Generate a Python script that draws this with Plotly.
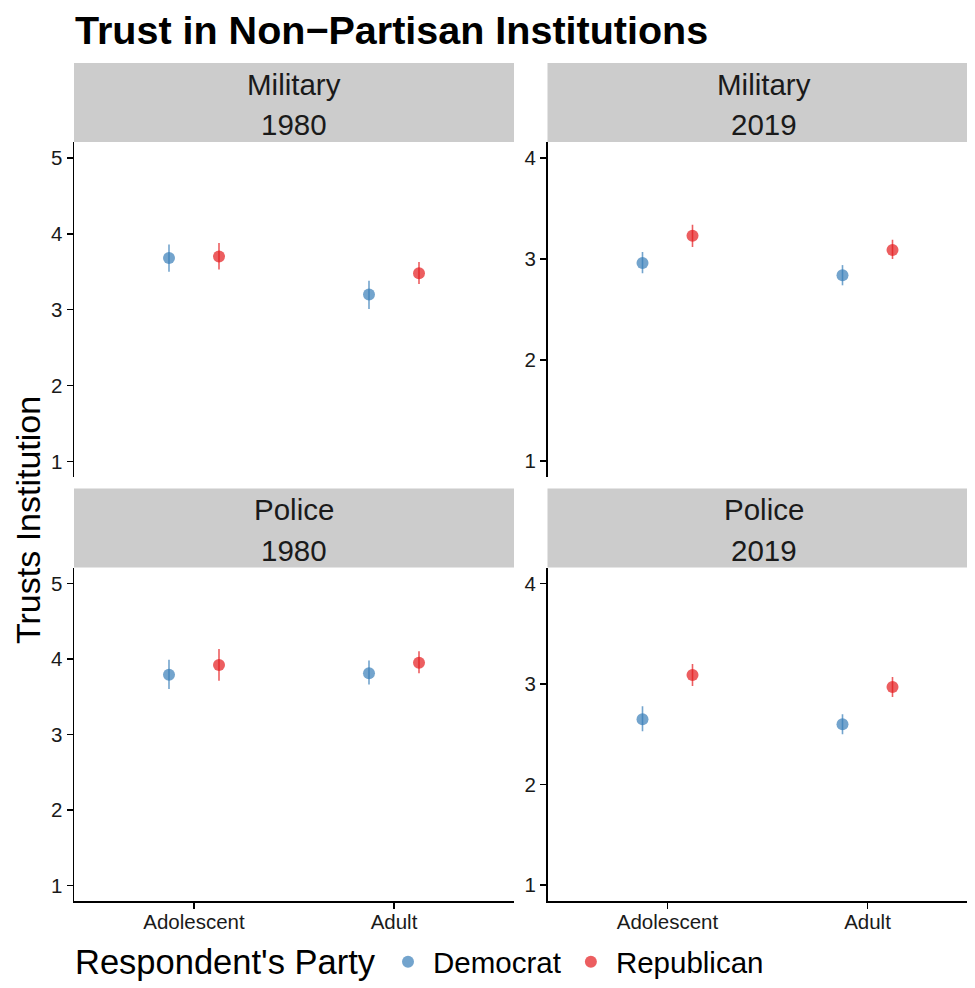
import plotly.graph_objects as go

# page has the browser's default 8px body margin; the figure fills the rest
OFF = 8
W, H = 975 - OFF, 988 - OFF

# ---------------- data ----------------
categories = ["Adolescent", "Adult"]
parties = ["Democrat", "Republican"]
panel_titles = [("Military", "1980"), ("Military", "2019"), ("Police", "1980"), ("Police", "2019")]
y_ticks = [1, 2, 3, 4, 5]

mil1980_dem = [3.68, 3.20]
mil1980_dem_lo = [3.50, 3.01]
mil1980_dem_hi = [3.86, 3.38]
mil1980_rep = [3.70, 3.48]
mil1980_rep_lo = [3.53, 3.34]
mil1980_rep_hi = [3.88, 3.63]

mil2019_dem = [2.96, 2.84]
mil2019_dem_lo = [2.86, 2.74]
mil2019_dem_hi = [3.07, 2.94]
mil2019_rep = [3.23, 3.09]
mil2019_rep_lo = [3.12, 3.00]
mil2019_rep_hi = [3.34, 3.19]

pol1980_dem = [3.79, 3.81]
pol1980_dem_lo = [3.60, 3.66]
pol1980_dem_hi = [3.99, 3.98]
pol1980_rep = [3.92, 3.95]
pol1980_rep_lo = [3.71, 3.81]
pol1980_rep_hi = [4.13, 4.10]

pol2019_dem = [2.65, 2.60]
pol2019_dem_lo = [2.53, 2.50]
pol2019_dem_hi = [2.78, 2.70]
pol2019_rep = [3.09, 2.97]
pol2019_rep_lo = [2.98, 2.87]
pol2019_rep_hi = [3.20, 3.07]

panels = [
    [(mil1980_dem, mil1980_dem_lo, mil1980_dem_hi), (mil1980_rep, mil1980_rep_lo, mil1980_rep_hi)],
    [(mil2019_dem, mil2019_dem_lo, mil2019_dem_hi), (mil2019_rep, mil2019_rep_lo, mil2019_rep_hi)],
    [(pol1980_dem, pol1980_dem_lo, pol1980_dem_hi), (pol1980_rep, pol1980_rep_lo, pol1980_rep_hi)],
    [(pol2019_dem, pol2019_dem_lo, pol2019_dem_hi), (pol2019_rep, pol2019_rep_lo, pol2019_rep_hi)],
]

# ---------------- style ----------------
FONT = "Liberation Sans, Arial, Helvetica, sans-serif"
colors = ["rgba(55,126,184,0.7)", "rgba(228,26,28,0.7)"]
dodge = [-0.125, 0.125]

def px_x(p):
    return (p - OFF) / W

def px_y(p):
    return 1 - (p - OFF) / H

# right column is cut by the picture edge (same 200 px/unit scale as the left column)
col_dom = [(74, 514), (547.5, 975)]
x_ranges = [[0.4, 2.6], [0.4, 0.4 + (975 - 547.5) / 200]]
strip_cx = [294, 764]
row_dom = [(142, 477), (567.5, 901)]
strip_rows = [(63, 142), (488.5, 567.5)]
y_ranges = [[0.795, 5.21], [0.843, 4.158]]

fig = go.Figure()

shapes = []
annotations = []
layout_axes = {}

for i in range(4):
    r, c = divmod(i, 2)
    idx = i + 1
    xa = "x" if idx == 1 else f"x{idx}"
    ya = "y" if idx == 1 else f"y{idx}"
    xkey = "xaxis" if idx == 1 else f"xaxis{idx}"
    ykey = "yaxis" if idx == 1 else f"yaxis{idx}"
    for k, (vals, lo, hi) in enumerate(panels[i]):
        xs = [j + 1 + dodge[k] for j in range(len(categories))]
        fig.add_trace(go.Scatter(
            x=xs, y=vals, xaxis=xa, yaxis=ya, mode="markers",
            name=parties[k], legendgroup=parties[k], showlegend=(i == 0),
            marker=dict(color=colors[k], size=12, line=dict(width=0)),
            error_y=dict(type="data", symmetric=False,
                         array=[h - v for h, v in zip(hi, vals)],
                         arrayminus=[v - l for v, l in zip(vals, lo)],
                         color=colors[k], thickness=1.6, width=0),
            hoverinfo="skip",
        ))
    x0, x1 = col_dom[c]
    y0, y1 = row_dom[r]
    layout_axes[xkey] = dict(
        domain=[px_x(x0), min(1.0, px_x(x1))], anchor=ya, range=x_ranges[c],
        tickvals=[1, 2], ticktext=categories,
        showline=(r == 1), linecolor="black", linewidth=1.5,
        ticks="outside" if r == 1 else "", ticklen=6, tickwidth=1.5, tickcolor="black",
        showticklabels=(r == 1), showgrid=False, zeroline=False, fixedrange=True,
        ticklabelstandoff=-4,
        tickfont=dict(family=FONT, size=20.5, color="#1a1a1a"),
    )
    layout_axes[ykey] = dict(
        domain=[px_y(y1), px_y(y0)], anchor=xa, range=y_ranges[c],
        tickvals=y_ticks,
        showline=True, linecolor="black", linewidth=1.5,
        ticks="outside", ticklen=6, tickwidth=1.5, tickcolor="black",
        showgrid=False, zeroline=False, fixedrange=True,
        tickfont=dict(family=FONT, size=20.5, color="#1a1a1a"),
    )
    s0, s1 = strip_rows[r]
    shapes.append(dict(type="rect", xref="paper", yref="paper",
                       x0=px_x(x0), x1=min(1.0, px_x(x1)), y0=px_y(s1), y1=px_y(s0),
                       fillcolor="#cccccc", line=dict(width=0), layer="below"))
    cx = px_x(strip_cx[c])
    annotations.append(dict(text=panel_titles[i][0], x=cx, y=px_y(s0 + 21), xref="paper", yref="paper",
                            xanchor="center", yanchor="middle", showarrow=False,
                            font=dict(family=FONT, size=29.5, color="#1a1a1a")))
    annotations.append(dict(text=panel_titles[i][1], x=cx, y=px_y(s0 + 62), xref="paper", yref="paper",
                            xanchor="center", yanchor="middle", showarrow=False,
                            font=dict(family=FONT, size=29.5, color="#1a1a1a")))

annotations.append(dict(text="<b>Trust in Non\u2212Partisan Institutions</b>", x=px_x(73), y=px_y(30),
                        xref="paper", yref="paper", xanchor="left", yanchor="middle", showarrow=False,
                        font=dict(family=FONT, size=39.5, color="black")))
annotations.append(dict(text="Trusts Institution", x=px_x(28), y=px_y(520), textangle=-90,
                        xref="paper", yref="paper", xanchor="center", yanchor="middle", showarrow=False,
                        font=dict(family=FONT, size=34, color="black")))
annotations.append(dict(text="Respondent's Party", x=px_x(73), y=px_y(962),
                        xref="paper", yref="paper", xanchor="left", yanchor="middle", showarrow=False,
                        font=dict(family=FONT, size=34.5, color="black")))

fig.update_layout(
    width=W, height=H, autosize=False,
    margin=dict(l=0, r=0, t=0, b=0),
    paper_bgcolor="white", plot_bgcolor="white",
    shapes=shapes, annotations=annotations,
    showlegend=True,
    legend=dict(orientation="h", x=px_x(383), y=0, xanchor="left", yanchor="bottom",
                font=dict(family=FONT, size=29.5, color="black"),
                itemwidth=40, itemsizing="constant", bgcolor="rgba(0,0,0,0)"),
    **layout_axes,
)

post = (
    "document.documentElement.style.overflow='hidden';"
    "document.body.style.overflow='hidden';"
)
fig.write_html("out.html", config={"staticPlot": True, "displayModeBar": False}, post_script=post)
